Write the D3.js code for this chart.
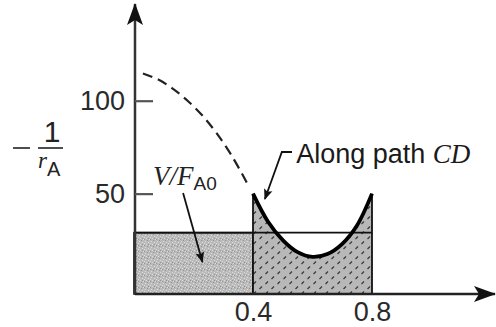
<!DOCTYPE html>
<html><head><meta charset="utf-8">
<script src="https://cdn.jsdelivr.net/npm/d3@7"></script>
<style>html,body{margin:0;padding:0;background:#fff;}svg{display:block;}</style>
</head><body>
<svg id="chart" width="496" height="327"></svg>
<script>
// ---- data ----
const xTicks = [0.4, 0.8];
const xTickLabels = ["0.4", "0.8"];
const yTicks = [50, 100];
const yTickLabels = ["50", "100"];
const yBase = -4;               // value at which the horizontal axis is drawn
const rectValue = 29;           // height of the V/F_A0 rectangle
const rectX = [0, 0.4];
const cdX = [0.4, 0.45, 0.5, 0.55, 0.6, 0.65, 0.7, 0.75, 0.8];
const cdY = [50, 35, 25, 18.5, 16, 17.5, 23, 33, 50];
const dashX = [0.03, 0.08, 0.13, 0.18, 0.23, 0.28, 0.33, 0.38];
const dashY = [114.6, 111.5, 106.5, 100, 92, 82, 70, 55.7];

const svg = d3.select("#chart");
const x = d3.scaleLinear().domain([0, 0.8]).range([134, 372]);
const y = d3.scaleLinear().domain([yBase, 100]).range([294, 100.7]);

const defs = svg.append("defs");
// stipple pattern
const pat1 = defs.append("pattern").attr("id", "stip").attr("patternUnits", "userSpaceOnUse")
  .attr("width", 6).attr("height", 6);
pat1.append("rect").attr("width", 6).attr("height", 6).attr("fill", "#bababa");
[[1,1],[4,2],[2,4],[5,5],[0,3]].forEach(p => pat1.append("rect").attr("x", p[0]).attr("y", p[1])
  .attr("width", 1).attr("height", 1).attr("fill", "#dcdcdc"));
[[3,0],[0,5],[4,4]].forEach(p => pat1.append("rect").attr("x", p[0]).attr("y", p[1])
  .attr("width", 1).attr("height", 1).attr("fill", "#959595"));
// dash pattern
const pat2 = defs.append("pattern").attr("id", "dashp").attr("patternUnits", "userSpaceOnUse")
  .attr("width", 12).attr("height", 10);
pat2.append("rect").attr("width", 12).attr("height", 10).attr("fill", "#b8b8b8");
pat2.append("line").attr("x1", 1.5).attr("y1", 4).attr("x2", 4).attr("y2", 1.5).attr("stroke", "#3a3a3a").attr("stroke-width", 1.2);
pat2.append("line").attr("x1", 7.5).attr("y1", 9).attr("x2", 10).attr("y2", 6.5).attr("stroke", "#3a3a3a").attr("stroke-width", 1.2);
// arrow markers
defs.append("marker").attr("id", "ah").attr("viewBox", "0 0 10 10").attr("refX", 9).attr("refY", 5)
  .attr("markerWidth", 11).attr("markerHeight", 11).attr("markerUnits", "userSpaceOnUse").attr("orient", "auto")
  .append("path").attr("d", "M0,1 L10,5 L0,9 L2,5 Z").attr("fill", "#111");
defs.append("marker").attr("id", "axh").attr("viewBox", "0 0 22 16").attr("refX", 21).attr("refY", 8)
  .attr("markerWidth", 22).attr("markerHeight", 16).attr("markerUnits", "userSpaceOnUse").attr("orient", "auto")
  .append("path").attr("d", "M0,0 L22,8 L0,16 L5,8 Z").attr("fill", "#111");

// V/F_A0 rectangle
svg.append("rect").attr("x", x(rectX[0])).attr("y", y(rectValue))
  .attr("width", x(rectX[1]) - x(rectX[0])).attr("height", y(yBase) - y(rectValue))
  .attr("fill", "url(#stip)").attr("stroke", "#111").attr("stroke-width", 1.6);

// area under CD curve
const cdData = cdX.map((v, i) => [v, cdY[i]]);
svg.append("path").datum(cdData)
  .attr("d", d3.area().x(d => x(d[0])).y0(y(yBase)).y1(d => y(d[1])).curve(d3.curveCatmullRom))
  .attr("fill", "url(#dashp)");
// horizontal line across
svg.append("line").attr("x1", x(rectX[0])).attr("x2", x(0.8)).attr("y1", y(rectValue)).attr("y2", y(rectValue))
  .attr("stroke", "#111").attr("stroke-width", 1.6);
// vertical edges
[0.4, 0.8].forEach((v, i) => svg.append("line").attr("x1", x(v)).attr("x2", x(v))
  .attr("y1", y(yBase)).attr("y2", y(cdY[i === 0 ? 0 : cdY.length - 1]))
  .attr("stroke", "#111").attr("stroke-width", 1.8));
// CD curve
svg.append("path").datum(cdData)
  .attr("d", d3.line().x(d => x(d[0])).y(d => y(d[1])).curve(d3.curveCatmullRom))
  .attr("fill", "none").attr("stroke", "#000").attr("stroke-width", 3.8);
// dashed curve
svg.append("path").datum(dashX.map((v, i) => [v, dashY[i]]))
  .attr("d", d3.line().x(d => x(d[0])).y(d => y(d[1])).curve(d3.curveCatmullRom))
  .attr("fill", "none").attr("stroke", "#222").attr("stroke-width", 2.2).attr("stroke-dasharray", "10,6");

// axes lines with arrows
svg.append("line").attr("x1", 135).attr("y1", y(yBase)).attr("x2", 135).attr("y2", 4)
  .attr("stroke", "#333").attr("stroke-width", 2.5).attr("marker-end", "url(#axh)");
svg.append("line").attr("x1", 135).attr("y1", y(yBase)).attr("x2", 495).attr("y2", y(yBase))
  .attr("stroke", "#222").attr("stroke-width", 2.5).attr("marker-end", "url(#axh)");

// y ticks
const ya = svg.append("g").attr("transform", "translate(135,0)")
  .call(d3.axisLeft(y).tickValues(yTicks).tickFormat((d, i) => yTickLabels[i]).tickSize(-18).tickPadding(10));
ya.select(".domain").remove();
ya.selectAll(".tick line").attr("stroke", "#555").attr("stroke-width", 2.2);
ya.selectAll("text").attr("font-family", "Liberation Sans, Arial, sans-serif").attr("font-size", 27).attr("fill", "#2a2a2a");

// x ticks
const xa = svg.append("g").attr("transform", `translate(0,${y(yBase)})`)
  .call(d3.axisBottom(x).tickValues(xTicks).tickFormat((d, i) => xTickLabels[i]).tickSize(0).tickPadding(8));
xa.select(".domain").remove();
xa.selectAll("text").attr("font-family", "Liberation Sans, Arial, sans-serif").attr("font-size", 27).attr("fill", "#2a2a2a");

// y-axis label: - 1/r_A
const lab = svg.append("g").attr("fill", "#222");
lab.append("line").attr("x1", 13).attr("x2", 30).attr("y1", 148).attr("y2", 148).attr("stroke", "#222").attr("stroke-width", 1.6);
lab.append("line").attr("x1", 38).attr("x2", 63).attr("y1", 148).attr("y2", 148).attr("stroke", "#222").attr("stroke-width", 1.6);
lab.append("text").attr("x", 52).attr("y", 142).attr("text-anchor", "middle")
  .attr("font-family", "Liberation Sans, Arial, sans-serif").attr("font-size", 30).text("1");
const rt = lab.append("text").attr("x", 38).attr("y", 168);
rt.append("tspan").attr("font-family", "Liberation Serif, Times New Roman, serif").attr("font-style", "italic").attr("font-size", 23).text("r");
rt.append("tspan").attr("font-family", "Liberation Sans, Arial, sans-serif").attr("font-size", 20).attr("dy", 8).text("A");

// V/F_A0 label + arrow
const vt = svg.append("text").attr("x", x(0.064)).attr("y", y(54.6)).attr("fill", "#222");
vt.append("tspan").attr("font-family", "Liberation Serif, Times New Roman, serif").attr("font-style", "italic").attr("font-size", 27).text("V/F");
vt.append("tspan").attr("font-family", "Liberation Sans, Arial, sans-serif").attr("font-size", 19).attr("dy", 5).text("A0");
svg.append("line").attr("x1", x(0.165)).attr("y1", y(50.3)).attr("x2", x(0.23)).attr("y2", y(13.2))
  .attr("stroke", "#111").attr("stroke-width", 1.8).attr("marker-end", "url(#ah)");

// Along path CD label + arrow
svg.append("polyline").attr("points", `${x(0.531)},${y(72.4)} ${x(0.497)},${y(72.4)} ${x(0.44)},${y(47.1)}`)
  .attr("fill", "none").attr("stroke", "#111").attr("stroke-width", 1.8).attr("marker-end", "url(#ah)");
const at = svg.append("text").attr("x", x(0.545)).attr("y", y(66.5)).attr("fill", "#1a1a1a");
at.append("tspan").attr("font-family", "Liberation Sans, Arial, sans-serif").attr("font-size", 27).text("Along path ");
at.append("tspan").attr("font-family", "Liberation Serif, Times New Roman, serif").attr("font-style", "italic").attr("font-size", 27).text("CD");
</script>
</body></html>
